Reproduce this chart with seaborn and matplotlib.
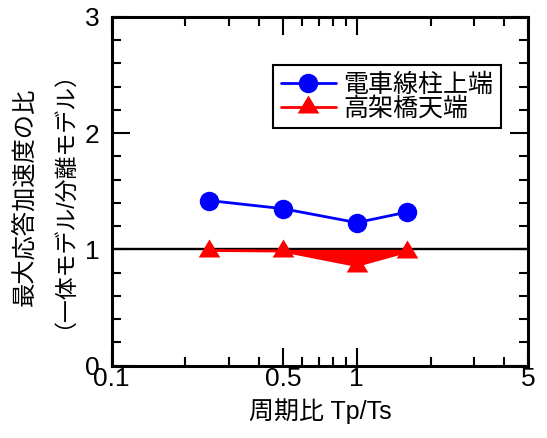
import numpy as np
import pandas as pd
import matplotlib
matplotlib.use("Agg")
import matplotlib.pyplot as plt
from matplotlib.ticker import FixedLocator, NullFormatter, FixedFormatter, MultipleLocator
import seaborn as sns

# Period ratio Tp/Ts and the ratio of peak response accelerations
period_ratio = [0.25, 0.5, 1.0, 1.6]
pole_top = [1.42, 1.35, 1.23, 1.32]        # 電車線柱上端
viaduct_top = [0.99, 0.985, 0.86, 0.98]    # 高架橋天端

series_names = ["電車線柱上端", "高架橋天端"]
x_ticks = [0.1, 0.5, 1, 5]
x_tick_labels = ["0.1", "0.5", "1", "5"]
x_minor = [0.2, 0.3, 0.4, 0.6, 0.7, 0.8, 0.9, 2, 3, 4]
y_ticks = [0, 1, 2, 3]

sns.set_style("ticks")
plt.rcParams["font.family"] = ["Liberation Sans", "Noto Sans CJK JP", "DejaVu Sans"]
plt.rcParams["text.color"] = "black"
plt.rcParams["axes.labelcolor"] = "black"

df = pd.DataFrame({
    "Tp/Ts": period_ratio * 2,
    "ratio": pole_top + viaduct_top,
    "series": [series_names[0]] * len(period_ratio) + [series_names[1]] * len(period_ratio),
})

fig = plt.figure(figsize=(5.47, 4.38), dpi=100)
ax = fig.add_axes([0.2042, 0.1655, 0.7611, 0.7957])

# reference level of 1.0
ax.axhline(1.0, color="black", lw=1.7, zorder=1)

# thick red band between the viaduct curve and 1.0
ax.fill_between(period_ratio, viaduct_top, 1.0, color="red", lw=0, zorder=2)

# triangle with its centroid at the data point
tri = [(-0.9, -0.5), (0.9, -0.5), (0.0, 1.0), (-0.9, -0.5)]

sns.lineplot(data=df[df["series"] == series_names[0]], x="Tp/Ts", y="ratio",
             color="blue", lw=2.0, marker="o", markersize=14, markeredgewidth=0,
             label=series_names[0], ax=ax, zorder=3)
sns.lineplot(data=df[df["series"] == series_names[1]], x="Tp/Ts", y="ratio",
             color="red", lw=2.0, marker=tri, markersize=17.3, markeredgewidth=0,
             label=series_names[1], ax=ax, zorder=3)

ax.set_xscale("log")
ax.set_xlim(0.1, 5)
ax.set_ylim(0, 3)

ax.xaxis.set_major_locator(FixedLocator(x_ticks))
ax.xaxis.set_major_formatter(FixedFormatter(x_tick_labels))
ax.xaxis.set_minor_locator(FixedLocator(x_minor))
ax.xaxis.set_minor_formatter(NullFormatter())
ax.yaxis.set_major_locator(FixedLocator(y_ticks))
ax.yaxis.set_minor_locator(MultipleLocator(0.2))

for s in ax.spines.values():
    s.set_visible(True)
    s.set_linewidth(2.2)
    s.set_color("black")

ax.tick_params(which="both", direction="in", top=True, right=True,
               width=1.5, color="black", labelsize=19, labelcolor="black")
ax.tick_params(which="major", length=13)
ax.tick_params(which="minor", length=6.5)
ax.tick_params(axis="x", which="major", pad=1)
ax.tick_params(axis="y", which="major", pad=9)

ax.set_xlabel("周期比 Tp/Ts", fontsize=18, labelpad=5, color="black")
ax.set_ylabel("")
fig.text(25 / 547, 1 - 197 / 438, "最大応答加速度の比", rotation=90,
         ha="center", va="center", fontsize=17.5, color="black")
fig.text(52 / 547, 1 - 189 / 438, "（一体モデル/分離モデル）", rotation=90,
         ha="center", va="center", fontsize=16.5, color="black")

leg = ax.legend(loc="upper left", bbox_to_anchor=(0.3875, 0.862),
                borderaxespad=0, fontsize=18, frameon=True, fancybox=False,
                handlelength=2.2, handletextpad=0.3, labelspacing=0.0,
                borderpad=0.3)
leg.get_frame().set_edgecolor("black")
leg.get_frame().set_linewidth(1.5)
leg.get_frame().set_alpha(1)
for t in leg.get_texts():
    t.set_color("black")

fig.savefig("out.png", dpi=100)
